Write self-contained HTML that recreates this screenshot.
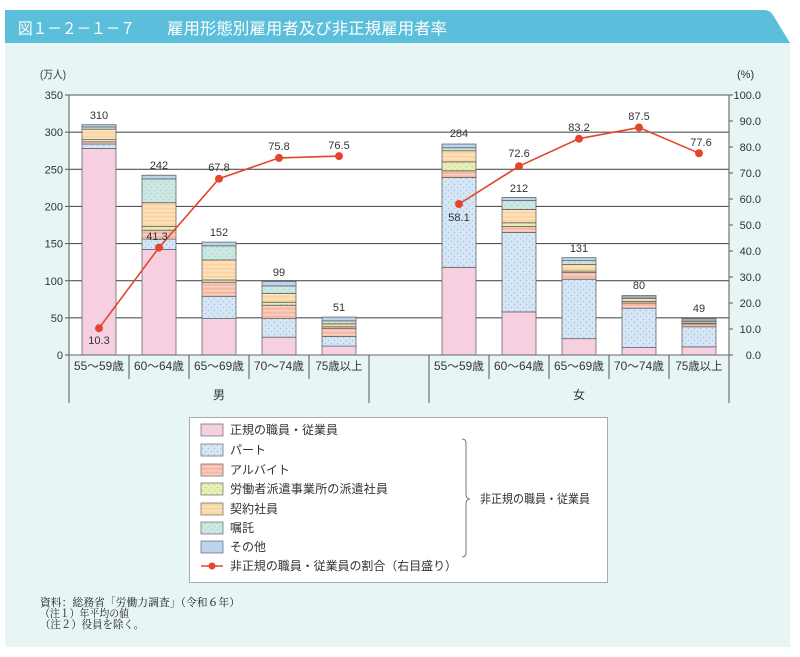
<!DOCTYPE html>
<html><head><meta charset="utf-8">
<style>
html,body{margin:0;padding:0;background:#fff;}
svg{display:block;}
text{font-family:"Liberation Sans","Noto Sans CJK JP",sans-serif;fill:#333;}
.t11{font-size:11px;}
.lg{font-size:12px;}
.ft{font-family:"Liberation Serif","Noto Serif CJK SC",serif;font-size:11px;fill:#222;}
</style></head>
<body>
<svg width="800" height="657" viewBox="0 0 800 657" xmlns="http://www.w3.org/2000/svg">
<defs>
<pattern id="pPart" width="6" height="6" patternUnits="userSpaceOnUse"><rect width="6" height="6" fill="#d5e6f6"/><circle cx="1.5" cy="1.5" r="0.75" fill="#a8c2de"/><circle cx="4.5" cy="4.5" r="0.75" fill="#a8c2de"/></pattern>
<pattern id="pArb" width="4" height="4" patternUnits="userSpaceOnUse"><rect width="4" height="4" fill="#f6b9a6"/><rect y="2" width="4" height="1.4" fill="#fad3c6"/></pattern>
<pattern id="pDis" width="6" height="6" patternUnits="userSpaceOnUse"><rect width="6" height="6" fill="#e6efb6"/><circle cx="1.5" cy="1.5" r="0.75" fill="#c4d68a"/><circle cx="4.5" cy="4.5" r="0.75" fill="#c4d68a"/></pattern>
<pattern id="pCon" width="4" height="4" patternUnits="userSpaceOnUse"><rect width="4" height="4" fill="#fbd5a2"/><rect y="2" width="4" height="1.4" fill="#fde5c4"/></pattern>
<pattern id="pSho" width="6" height="6" patternUnits="userSpaceOnUse"><rect width="6" height="6" fill="#cce8e3"/><circle cx="1.5" cy="1.5" r="0.75" fill="#a3d2ca"/><circle cx="4.5" cy="4.5" r="0.75" fill="#a3d2ca"/></pattern>
</defs>

<!-- panel -->
<rect x="5" y="43" width="785" height="604" fill="#e8f5f5"/>
<path d="M5,10 L764,10 Q770,10 773,15 L790,43 L5,43 Z" fill="#5bbfdb"/>
<text x="18" y="34" style="font-size:16px;fill:#fff" textLength="117" lengthAdjust="spacingAndGlyphs">図１－２－１－７</text>
<text x="167" y="34" style="font-size:16px;fill:#fff" textLength="280" lengthAdjust="spacingAndGlyphs">雇用形態別雇用者及び非正規雇用者率</text>

<!-- plot area -->
<rect x="69" y="95" width="660" height="260" fill="#fff"/>
<g stroke="#555" stroke-width="1.1">
<line x1="69" y1="317.86" x2="729" y2="317.86"/>
<line x1="69" y1="280.71" x2="729" y2="280.71"/>
<line x1="69" y1="243.57" x2="729" y2="243.57"/>
<line x1="69" y1="206.43" x2="729" y2="206.43"/>
<line x1="69" y1="169.29" x2="729" y2="169.29"/>
<line x1="69" y1="132.14" x2="729" y2="132.14"/>
<line x1="69" y1="95" x2="729" y2="95"/>
</g>

<!-- bars -->
<g stroke="#666" stroke-width="0.8">
<rect x="82" y="148.49" width="34" height="206.51" fill="#f6d0e1"/>
<rect x="82" y="144.03" width="34" height="4.46" fill="url(#pPart)"/>
<rect x="82" y="141.80" width="34" height="2.23" fill="url(#pArb)"/>
<rect x="82" y="139.57" width="34" height="2.23" fill="url(#pDis)"/>
<rect x="82" y="129.17" width="34" height="10.40" fill="url(#pCon)"/>
<rect x="82" y="126.94" width="34" height="2.23" fill="url(#pSho)"/>
<rect x="82" y="124.71" width="34" height="2.23" fill="#bad3ee"/>
<rect x="142" y="249.51" width="34" height="105.49" fill="#f6d0e1"/>
<rect x="142" y="239.11" width="34" height="10.40" fill="url(#pPart)"/>
<rect x="142" y="230.20" width="34" height="8.91" fill="url(#pArb)"/>
<rect x="142" y="226.49" width="34" height="3.71" fill="url(#pDis)"/>
<rect x="142" y="202.71" width="34" height="23.78" fill="url(#pCon)"/>
<rect x="142" y="178.94" width="34" height="23.77" fill="url(#pSho)"/>
<rect x="142" y="175.23" width="34" height="3.71" fill="#bad3ee"/>
<rect x="202" y="318.60" width="34" height="36.40" fill="#f6d0e1"/>
<rect x="202" y="296.31" width="34" height="22.29" fill="url(#pPart)"/>
<rect x="202" y="282.20" width="34" height="14.11" fill="url(#pArb)"/>
<rect x="202" y="279.97" width="34" height="2.23" fill="url(#pDis)"/>
<rect x="202" y="259.91" width="34" height="20.06" fill="url(#pCon)"/>
<rect x="202" y="245.80" width="34" height="14.11" fill="url(#pSho)"/>
<rect x="202" y="242.09" width="34" height="3.71" fill="#bad3ee"/>
<rect x="262" y="337.17" width="34" height="17.83" fill="#f6d0e1"/>
<rect x="262" y="318.60" width="34" height="18.57" fill="url(#pPart)"/>
<rect x="262" y="305.23" width="34" height="13.37" fill="url(#pArb)"/>
<rect x="262" y="302.26" width="34" height="2.97" fill="url(#pDis)"/>
<rect x="262" y="293.34" width="34" height="8.92" fill="url(#pCon)"/>
<rect x="262" y="285.91" width="34" height="7.43" fill="url(#pSho)"/>
<rect x="262" y="281.46" width="34" height="4.45" fill="#bad3ee"/>
<rect x="322" y="346.09" width="34" height="8.91" fill="#f6d0e1"/>
<rect x="322" y="336.43" width="34" height="9.66" fill="url(#pPart)"/>
<rect x="322" y="328.26" width="34" height="8.17" fill="url(#pArb)"/>
<rect x="322" y="326.77" width="34" height="1.49" fill="url(#pDis)"/>
<rect x="322" y="323.80" width="34" height="2.97" fill="url(#pCon)"/>
<rect x="322" y="320.83" width="34" height="2.97" fill="url(#pSho)"/>
<rect x="322" y="317.11" width="34" height="3.72" fill="#bad3ee"/>
<rect x="442" y="267.34" width="34" height="87.66" fill="#f6d0e1"/>
<rect x="442" y="177.46" width="34" height="89.88" fill="url(#pPart)"/>
<rect x="442" y="170.77" width="34" height="6.69" fill="url(#pArb)"/>
<rect x="442" y="161.86" width="34" height="8.91" fill="url(#pDis)"/>
<rect x="442" y="150.71" width="34" height="11.15" fill="url(#pCon)"/>
<rect x="442" y="147.74" width="34" height="2.97" fill="url(#pSho)"/>
<rect x="442" y="144.03" width="34" height="3.71" fill="#bad3ee"/>
<rect x="502" y="311.91" width="34" height="43.09" fill="#f6d0e1"/>
<rect x="502" y="232.43" width="34" height="79.48" fill="url(#pPart)"/>
<rect x="502" y="226.49" width="34" height="5.94" fill="url(#pArb)"/>
<rect x="502" y="222.77" width="34" height="3.72" fill="url(#pDis)"/>
<rect x="502" y="209.40" width="34" height="13.37" fill="url(#pCon)"/>
<rect x="502" y="200.49" width="34" height="8.91" fill="url(#pSho)"/>
<rect x="502" y="197.51" width="34" height="2.98" fill="#bad3ee"/>
<rect x="562" y="338.66" width="34" height="16.34" fill="#f6d0e1"/>
<rect x="562" y="279.23" width="34" height="59.43" fill="url(#pPart)"/>
<rect x="562" y="272.54" width="34" height="6.69" fill="url(#pArb)"/>
<rect x="562" y="271.06" width="34" height="1.48" fill="url(#pDis)"/>
<rect x="562" y="264.37" width="34" height="6.69" fill="url(#pCon)"/>
<rect x="562" y="260.66" width="34" height="3.71" fill="url(#pSho)"/>
<rect x="562" y="257.69" width="34" height="2.97" fill="#bad3ee"/>
<rect x="622" y="347.57" width="34" height="7.43" fill="#f6d0e1"/>
<rect x="622" y="308.20" width="34" height="39.37" fill="url(#pPart)"/>
<rect x="622" y="303.00" width="34" height="5.20" fill="url(#pArb)"/>
<rect x="622" y="301.51" width="34" height="1.49" fill="url(#pDis)"/>
<rect x="622" y="298.54" width="34" height="2.97" fill="url(#pCon)"/>
<rect x="622" y="297.06" width="34" height="1.48" fill="url(#pSho)"/>
<rect x="622" y="295.57" width="34" height="1.49" fill="#bad3ee"/>
<rect x="682" y="346.83" width="34" height="8.17" fill="#f6d0e1"/>
<rect x="682" y="326.77" width="34" height="20.06" fill="url(#pPart)"/>
<rect x="682" y="323.80" width="34" height="2.97" fill="url(#pArb)"/>
<rect x="682" y="323.06" width="34" height="0.74" fill="url(#pDis)"/>
<rect x="682" y="321.57" width="34" height="1.49" fill="url(#pCon)"/>
<rect x="682" y="320.09" width="34" height="1.48" fill="url(#pSho)"/>
<rect x="682" y="318.60" width="34" height="1.49" fill="#bad3ee"/>
</g>

<!-- axes -->
<g stroke="#666" stroke-width="1.1">
<line x1="69" y1="95" x2="69" y2="403"/>
<line x1="729" y1="95" x2="729" y2="403"/>
<line x1="69" y1="355" x2="729" y2="355"/>
<line x1="129" y1="355" x2="129" y2="379"/>
<line x1="189" y1="355" x2="189" y2="379"/>
<line x1="249" y1="355" x2="249" y2="379"/>
<line x1="309" y1="355" x2="309" y2="379"/>
<line x1="369" y1="355" x2="369" y2="403"/>
<line x1="429" y1="355" x2="429" y2="403"/>
<line x1="489" y1="355" x2="489" y2="379"/>
<line x1="549" y1="355" x2="549" y2="379"/>
<line x1="609" y1="355" x2="609" y2="379"/>
<line x1="669" y1="355" x2="669" y2="379"/>
<line x1="65" y1="355" x2="69" y2="355"/>
<line x1="65" y1="317.86" x2="69" y2="317.86"/>
<line x1="65" y1="280.71" x2="69" y2="280.71"/>
<line x1="65" y1="243.57" x2="69" y2="243.57"/>
<line x1="65" y1="206.43" x2="69" y2="206.43"/>
<line x1="65" y1="169.29" x2="69" y2="169.29"/>
<line x1="65" y1="132.14" x2="69" y2="132.14"/>
<line x1="65" y1="95" x2="69" y2="95"/>
<line x1="729" y1="355" x2="733" y2="355"/>
<line x1="729" y1="329" x2="733" y2="329"/>
<line x1="729" y1="303" x2="733" y2="303"/>
<line x1="729" y1="277" x2="733" y2="277"/>
<line x1="729" y1="251" x2="733" y2="251"/>
<line x1="729" y1="225" x2="733" y2="225"/>
<line x1="729" y1="199" x2="733" y2="199"/>
<line x1="729" y1="173" x2="733" y2="173"/>
<line x1="729" y1="147" x2="733" y2="147"/>
<line x1="729" y1="121" x2="733" y2="121"/>
<line x1="729" y1="95" x2="733" y2="95"/>
</g>

<g class="t11" text-anchor="end">
<text x="63" y="359">0</text>
<text x="63" y="322">50</text>
<text x="63" y="285">100</text>
<text x="63" y="247.5">150</text>
<text x="63" y="210.5">200</text>
<text x="63" y="173.5">250</text>
<text x="63" y="136">300</text>
<text x="63" y="99">350</text>
</g>
<text x="40" y="78" class="t11" textLength="26" lengthAdjust="spacingAndGlyphs">(万人)</text>
<text x="737" y="78" class="t11">(%)</text>
<g class="t11" text-anchor="end">
<text x="761" y="359">0.0</text>
<text x="761" y="333">10.0</text>
<text x="761" y="307">20.0</text>
<text x="761" y="281">30.0</text>
<text x="761" y="255">40.0</text>
<text x="761" y="229">50.0</text>
<text x="761" y="203">60.0</text>
<text x="761" y="177">70.0</text>
<text x="761" y="151">80.0</text>
<text x="761" y="125">90.0</text>
<text x="761" y="99">100.0</text>
</g>

<g class="t11" text-anchor="middle" style="font-size:11.5px">
<text x="99" y="370" textLength="50" lengthAdjust="spacingAndGlyphs">55～59歳</text>
<text x="159" y="370" textLength="50" lengthAdjust="spacingAndGlyphs">60～64歳</text>
<text x="219" y="370" textLength="50" lengthAdjust="spacingAndGlyphs">65～69歳</text>
<text x="279" y="370" textLength="50" lengthAdjust="spacingAndGlyphs">70～74歳</text>
<text x="339" y="370" textLength="47" lengthAdjust="spacingAndGlyphs">75歳以上</text>
<text x="459" y="370" textLength="50" lengthAdjust="spacingAndGlyphs">55～59歳</text>
<text x="519" y="370" textLength="50" lengthAdjust="spacingAndGlyphs">60～64歳</text>
<text x="579" y="370" textLength="50" lengthAdjust="spacingAndGlyphs">65～69歳</text>
<text x="639" y="370" textLength="50" lengthAdjust="spacingAndGlyphs">70～74歳</text>
<text x="699" y="370" textLength="47" lengthAdjust="spacingAndGlyphs">75歳以上</text>
<text x="219" y="399" style="font-size:12px">男</text>
<text x="579" y="399" style="font-size:12px">女</text>
</g>

<g class="t11" text-anchor="middle">
<text x="99" y="119">310</text>
<text x="159" y="169">242</text>
<text x="219" y="236">152</text>
<text x="279" y="276">99</text>
<text x="339" y="311">51</text>
<text x="459" y="137">284</text>
<text x="519" y="192">212</text>
<text x="579" y="252">131</text>
<text x="639" y="289">80</text>
<text x="699" y="312">49</text>
</g>

<g stroke="#e5452c" stroke-width="1.6" fill="none">
<polyline points="99,328.2 159,247.6 219,178.7 279,157.9 339,156.1"/>
<polyline points="459,204 519,166.2 579,138.7 639,127.5 699,153.2"/>
</g>
<g fill="#e5452c">
<circle cx="99" cy="328.2" r="4"/>
<circle cx="159" cy="247.6" r="4"/>
<circle cx="219" cy="178.7" r="4"/>
<circle cx="279" cy="157.9" r="4"/>
<circle cx="339" cy="156.1" r="4"/>
<circle cx="459" cy="204" r="4"/>
<circle cx="519" cy="166.2" r="4"/>
<circle cx="579" cy="138.7" r="4"/>
<circle cx="639" cy="127.5" r="4"/>
<circle cx="699" cy="153.2" r="4"/>
</g>
<g class="t11" text-anchor="middle">
<text x="99" y="344">10.3</text>
<text x="157" y="240">41.3</text>
<text x="219" y="171">67.8</text>
<text x="279" y="150">75.8</text>
<text x="339" y="149">76.5</text>
<text x="459" y="221">58.1</text>
<text x="519" y="157">72.6</text>
<text x="579" y="131">83.2</text>
<text x="639" y="120">87.5</text>
<text x="701" y="146">77.6</text>
</g>

<rect x="189.5" y="417.5" width="418" height="165" fill="#fff" stroke="#aaa" stroke-width="1"/>
<g stroke="#777" stroke-width="0.8">
<rect x="201" y="424" width="22" height="12" fill="#f6d0e1"/>
<rect x="201" y="444" width="22" height="12" fill="url(#pPart)"/>
<rect x="201" y="464" width="22" height="12" fill="url(#pArb)"/>
<rect x="201" y="483" width="22" height="12" fill="url(#pDis)"/>
<rect x="201" y="503" width="22" height="12" fill="url(#pCon)"/>
<rect x="201" y="522" width="22" height="12" fill="url(#pSho)"/>
<rect x="201" y="541" width="22" height="12" fill="#bad3ee"/>
</g>
<line x1="201" y1="566" x2="223" y2="566" stroke="#e5452c" stroke-width="1.6"/>
<circle cx="212" cy="566" r="3.5" fill="#e5452c"/>
<g class="lg">
<text x="230" y="434">正規の職員・従業員</text>
<text x="230" y="454">パート</text>
<text x="230" y="474">アルバイト</text>
<text x="230" y="493" textLength="158" lengthAdjust="spacingAndGlyphs">労働者派遣事業所の派遣社員</text>
<text x="230" y="513">契約社員</text>
<text x="230" y="532">嘱託</text>
<text x="230" y="551">その他</text>
<text x="230" y="570" textLength="227" lengthAdjust="spacingAndGlyphs">非正規の職員・従業員の割合（右目盛り）</text>
</g>
<path d="M462,439 Q466,439 466,443 L466,494 Q466,499 470,499 Q466,499 466,504 L466,553 Q466,557 462,557" fill="none" stroke="#777" stroke-width="1"/>
<text x="480" y="503" class="lg" textLength="110" lengthAdjust="spacingAndGlyphs">非正規の職員・従業員</text>

<text x="40" y="606" class="ft" textLength="200" lengthAdjust="spacingAndGlyphs">資料：総務省「労働力調査」（令和６年）</text>
<text x="40" y="617" class="ft" textLength="89" lengthAdjust="spacingAndGlyphs">（注１）年平均の値</text>
<text x="40" y="628" class="ft" textLength="104" lengthAdjust="spacingAndGlyphs">（注２）役員を除く。</text>
</svg>
</body></html>
